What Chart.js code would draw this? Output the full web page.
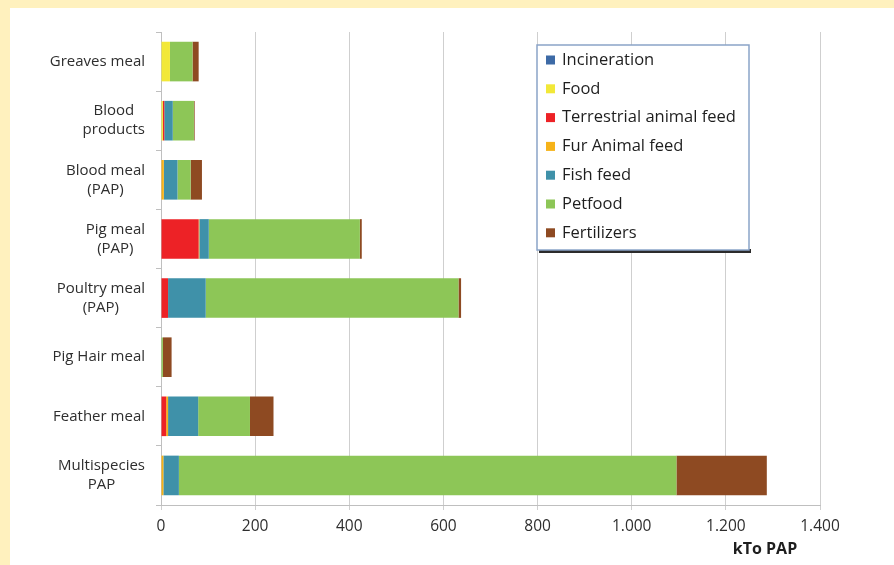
<!DOCTYPE html>
<html>
<head>
<meta charset="utf-8">
<script src="https://cdn.jsdelivr.net/npm/chart.js@4.4.0/dist/chart.umd.min.js"></script>
<style>
  body { margin: 0; background: #fff1be; width: 894px; height: 565px; overflow: hidden; }
  #wrap { position: absolute; left: 10px; top: 8px; width: 884px; height: 557px; background: #ffffff; }
</style>
</head>
<body>
<div id="wrap"><canvas id="papChart" width="884" height="557"></canvas></div>
<script>
// catégories (de haut en bas)
const categories = [
  ['Greaves meal'],
  ['Blood', 'products'],
  ['Blood meal', '(PAP)'],
  ['Pig meal', '(PAP)'],
  ['Poultry meal', '(PAP)'],
  ['Pig Hair meal'],
  ['Feather meal'],
  ['Multispecies', 'PAP']
];

// valeurs (kTo PAP)
const incineration = [0, 0, 0, 0, 0, 0, 0, 0];
const food         = [19, 4, 0, 0, 0, 0, 0, 0];
const terrestrial  = [0, 3, 0, 80, 15, 0, 11, 0];
const furAnimal    = [0, 0, 6, 1.5, 0, 0, 4, 5];
const fishFeed     = [0, 18, 29, 20, 80, 0, 64, 33];
const petfood      = [48, 45, 28, 321, 537, 4, 110, 1057];
const fertilizers  = [13, 1.5, 24, 4, 5.5, 18.5, 50, 192];

const xTicks = [0, 200, 400, 600, 800, 1000, 1200, 1400];

const seriesNames = ['Incineration', 'Food', 'Terrestrial animal feed', 'Fur Animal feed', 'Fish feed', 'Petfood', 'Fertilizers'];
const seriesColors = ['#3d6aa6', '#f2e838', '#ed2226', '#f6b319', '#3f91a9', '#8dc657', '#8e4a22'];
const seriesValues = [incineration, food, terrestrial, furAnimal, fishFeed, petfood, fertilizers];

const FONT = '"Open Sans", "DejaVu Sans", sans-serif';

// format 1.000 (séparateur de milliers à l'européenne)
function formatThousands(v) {
  return String(v).replace(/\B(?=(\d{3})+(?!\d))/g, '.');
}

// Dessin des libellés Y, de la légende et du titre d'axe
const overlayPlugin = {
  id: 'overlay',
  afterDraw(chart) {
    const ctx = chart.ctx;
    const yScale = chart.scales.y;
    ctx.save();

    // libellés des catégories : bloc aligné à droite, lignes centrées
    ctx.font = '15px ' + FONT;
    ctx.fillStyle = '#2e2e2e';
    ctx.textBaseline = 'middle';
    ctx.textAlign = 'center';
    const rightEdge = 135;
    const lineH = 19;
    categories.forEach((lines, i) => {
      const yc = yScale.getPixelForTick(i);
      const blockW = Math.max(...lines.map(l => ctx.measureText(l).width));
      const xc = rightEdge - blockW / 2;
      lines.forEach((l, j) => {
        ctx.fillText(l, xc, yc + (j - (lines.length - 1) / 2) * lineH);
      });
    });

    // légende encadrée
    const lx = 527, ly = 37, lw = 212, lh = 205;
    ctx.fillStyle = '#2b2b2b';
    ctx.fillRect(lx + 2, ly + lh - 1, lw, 4);
    ctx.fillStyle = '#ffffff';
    ctx.fillRect(lx, ly, lw, lh);
    ctx.strokeStyle = '#8aa4c8';
    ctx.lineWidth = 1.5;
    ctx.strokeRect(lx, ly, lw, lh);
    ctx.font = '16.5px ' + FONT;
    ctx.textAlign = 'left';
    seriesNames.forEach((name, i) => {
      const yc = ly + 15 + i * 28.8;
      ctx.fillStyle = seriesColors[i];
      ctx.fillRect(lx + 9, yc - 4.5, 9, 9);
      ctx.fillStyle = '#1e1e1e';
      ctx.fillText(name, lx + 25, yc);
    });

    // titre de l'axe X
    ctx.font = 'bold 16px ' + FONT;
    ctx.fillStyle = '#1e1e1e';
    ctx.textAlign = 'center';
    ctx.fillText('kTo PAP', 755, 541);
    ctx.restore();
  }
};

const chartData = {
  labels: categories.map(c => c.join(' ')),
  datasets: seriesNames.map((name, i) => ({
    label: name,
    data: seriesValues[i],
    backgroundColor: seriesColors[i],
    borderWidth: 0,
    barPercentage: 0.67,
    categoryPercentage: 1
  }))
};

const options = {
  indexAxis: 'y',
  responsive: false,
  animation: false,
  layout: { padding: { top: 24, right: 74, left: 0, bottom: 0 } },
  plugins: {
    legend: { display: false },
    tooltip: { enabled: false }
  },
  scales: {
    x: {
      stacked: true,
      min: 0,
      max: 1400,
      afterBuildTicks: (scale) => { scale.ticks = xTicks.map(v => ({ value: v })); },
      afterFit: (scale) => { scale.height = 60; },
      grid: { color: '#cfcfcf', lineWidth: 1, tickLength: 5 },
      border: { color: '#bfbfbf' },
      ticks: {
        font: { family: FONT, size: 15.5 },
        color: '#2e2e2e',
        padding: 7,
        maxRotation: 0,
        callback: (v) => formatThousands(v)
      }
    },
    y: {
      stacked: true,
      afterFit: (scale) => { scale.width = 151; },
      grid: { offset: true, drawOnChartArea: false, color: '#bfbfbf', tickLength: 5 },
      border: { color: '#bfbfbf' },
      ticks: { display: false }
    }
  }
};

const ctx = document.getElementById('papChart').getContext('2d');
const papChart = new Chart(ctx, {
  type: 'bar',
  data: chartData,
  options: options,
  plugins: [overlayPlugin]
});
</script>
</body>
</html>
